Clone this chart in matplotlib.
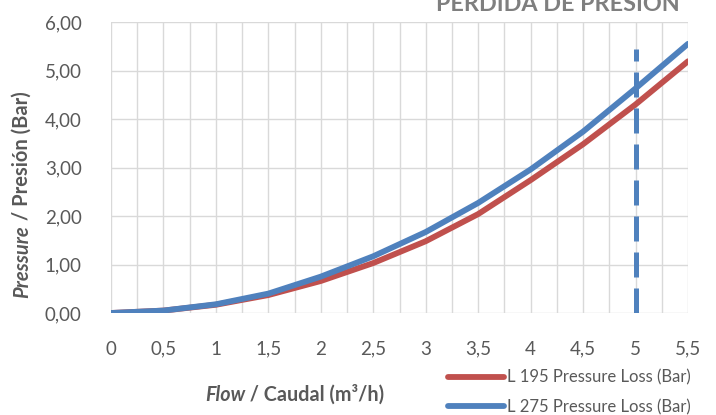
import matplotlib
matplotlib.use("Agg")
import matplotlib.pyplot as plt
from matplotlib.ticker import MultipleLocator, FuncFormatter

flow = [0, 0.5, 1, 1.5, 2, 2.5, 3, 3.5, 4, 4.5, 5, 5.5]
loss_195 = [0.00, 0.05, 0.17, 0.37, 0.66, 1.03, 1.48, 2.04, 2.74, 3.48, 4.30, 5.19]
loss_275 = [0.00, 0.05, 0.18, 0.40, 0.75, 1.17, 1.67, 2.27, 2.96, 3.74, 4.63, 5.55]
marker_x = [5, 5]
marker_y = [0, 5.45]
x_ticks = [0, 0.5, 1, 1.5, 2, 2.5, 3, 3.5, 4, 4.5, 5, 5.5]
y_ticks = [0, 1, 2, 3, 4, 5, 6]

RED = "#C0504D"
BLUE = "#4F81BD"
GRAY = "#595959"
FONT = "Lato"

W, H = 716, 415
fig = plt.figure(figsize=(W / 100, H / 100), dpi=100)
ax = fig.add_axes([111 / W, 1 - 313 / H, (688 - 111) / W, (313 - 22) / H])

ax.plot(flow, loss_195, color=RED, lw=4.2, solid_capstyle="round", label="L 195 Pressure Loss (Bar)", zorder=3)
ax.plot(flow, loss_275, color=BLUE, lw=4.2, solid_capstyle="round", label="L 275 Pressure Loss (Bar)", zorder=4)
ax.plot(marker_x, marker_y, color=BLUE, lw=3.6, dashes=(5, 2.2), zorder=5)

ax.set_xlim(0, 5.5)
ax.set_ylim(0, 6)
ax.set_xticks(x_ticks)
ax.xaxis.set_minor_locator(MultipleLocator(0.25))
ax.set_yticks(y_ticks)
ax.xaxis.set_major_formatter(FuncFormatter(lambda v, p: ("%g" % v).replace(".", ",")))
ax.yaxis.set_major_formatter(FuncFormatter(lambda v, p: ("%.2f" % v).replace(".", ",")))
ax.grid(True, which="both", axis="x", color="#D9D9D9", lw=1)
ax.grid(True, which="major", axis="y", color="#D9D9D9", lw=1)
ax.set_axisbelow(True)
for s in ax.spines.values():
    s.set_visible(False)
ax.tick_params(which="both", length=0, labelsize=13.5, colors=GRAY)
ax.tick_params(axis="y", pad=21)
ax.tick_params(axis="x", pad=20)
for lab in ax.get_xticklabels() + ax.get_yticklabels():
    lab.set_fontfamily(FONT)

leg = ax.legend(loc="upper left", bbox_to_anchor=(436 / W, 1 - 358 / H), bbox_transform=fig.transFigure,
                frameon=False, handlelength=3.4, handletextpad=0.15, borderpad=0.2,
                labelspacing=0.8, prop={"family": FONT, "size": 12})
for t in leg.get_texts():
    t.set_color(GRAY)

fig.text(558 / W, 1 - 11 / H, "PERDIDA DE PRESIÓN", ha="center", va="baseline",
         fontsize=16.8, fontweight="bold", color="#7F7F7F", family=FONT)

# x label: "Flow" bold italic + " / Caudal (m³/h)" bold
fig.canvas.draw()
r = fig.canvas.get_renderer()
xl_y = 1 - 395 / H
t1 = fig.text(205 / W, xl_y, "Flow", ha="left", va="center", fontsize=14.2,
              fontweight="bold", fontstyle="italic", color=GRAY, family=FONT)
bb = t1.get_window_extent(r)
fig.text(bb.x1 / W, xl_y, " / Caudal (m³/h)", ha="left", va="center", fontsize=14.2,
         fontweight="bold", color=GRAY, family=FONT)

# y label rotated
yl_x = 22 / W
t2 = fig.text(yl_x, 1 - 298 / H, "Pressure", ha="center", va="bottom", rotation=90,
              fontsize=14.5, fontweight="bold", fontstyle="italic", color=GRAY, family=FONT)
bb2 = t2.get_window_extent(r)
fig.text(yl_x, bb2.y1 / H, " / Presión (Bar)", ha="center", va="bottom", rotation=90,
         fontsize=14.5, fontweight="bold", color=GRAY, family=FONT)

fig.savefig("out.png", dpi=100)
